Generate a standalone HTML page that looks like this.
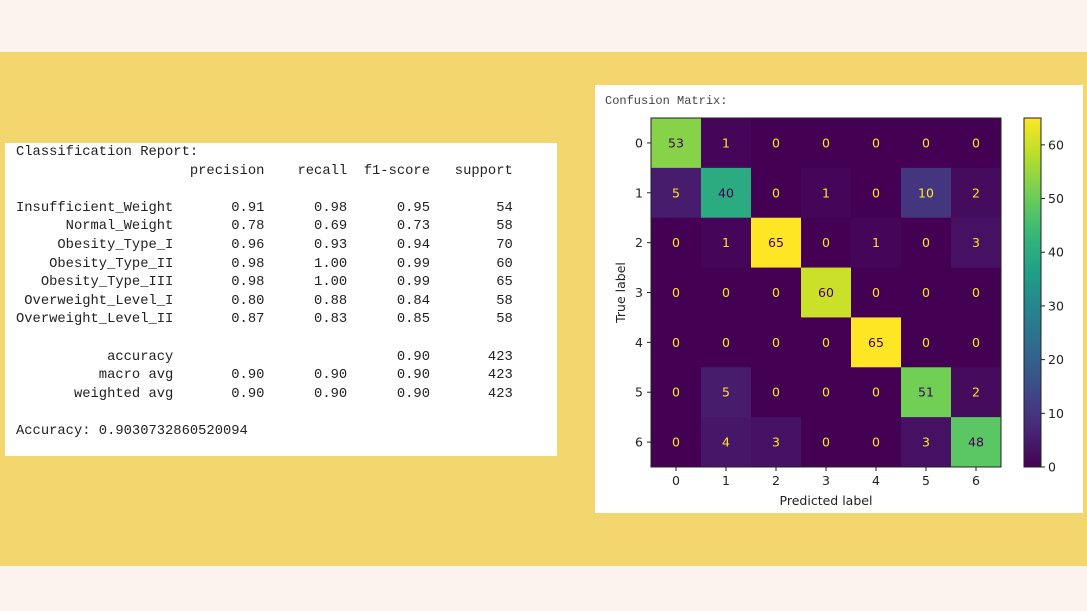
<!DOCTYPE html>
<html><head><meta charset="utf-8"><style>
body{margin:0;width:1087px;height:611px;overflow:hidden;background:#fdf3ee;position:relative;font-family:"Liberation Sans",sans-serif}
#band{position:absolute;left:0;top:52px;width:1087px;height:514px;background:#f4d66e}
#report{position:absolute;left:5px;top:143px;width:552px;height:313px;background:#fff}
#report pre{margin:0;position:absolute;left:11px;top:1px;font-family:"Liberation Mono",monospace;font-size:13.8px;line-height:18.6px;color:#222}
#cmpanel{position:absolute;left:595px;top:85px;width:488px;height:428px;background:#fff}
</style></head><body>
<div id="band"></div>
<div id="report"><pre>Classification Report:
                     precision    recall  f1-score   support

Insufficient_Weight       0.91      0.98      0.95        54
      Normal_Weight       0.78      0.69      0.73        58
     Obesity_Type_I       0.96      0.93      0.94        70
    Obesity_Type_II       0.98      1.00      0.99        60
   Obesity_Type_III       0.98      1.00      0.99        65
 Overweight_Level_I       0.80      0.88      0.84        58
Overweight_Level_II       0.87      0.83      0.85        58

           accuracy                           0.90       423
          macro avg       0.90      0.90      0.90       423
       weighted avg       0.90      0.90      0.90       423

Accuracy: 0.9030732860520094</pre></div>
<div id="cmpanel"></div>
<svg id="svg" width="1087" height="611" style="position:absolute;left:0;top:0"></svg>
<script>
const labels=[0,1,2,3,4,5,6];
const row0=[53,1,0,0,0,0,0];
const row1=[5,40,0,1,0,10,2];
const row2=[0,1,65,0,1,0,3];
const row3=[0,0,0,60,0,0,0];
const row4=[0,0,0,0,65,0,0];
const row5=[0,5,0,0,0,51,2];
const row6=[0,4,3,0,0,3,48];
const cbTicks=[0,10,20,30,40,50,60];
const matrix=[row0,row1,row2,row3,row4,row5,row6];
const NS="http://www.w3.org/2000/svg";
const svg=document.getElementById('svg');
const X0=651,Y0=118,W=350,H=349;
const vmin=0,vmax=Math.max(...matrix.flat());
const cw=W/labels.length,ch=H/labels.length;
const xs=i=>X0+i*cw, ys=i=>Y0+i*ch;
const vir=[[68,1,84],[72,40,120],[62,74,137],[49,104,142],[38,130,142],[31,158,137],[53,183,121],[110,206,88],[181,222,43],[253,231,37]];
function viridis(t){t=Math.max(0,Math.min(1,t));const p=t*(vir.length-1),i=Math.min(Math.floor(p),vir.length-2),f=p-i;const c=vir[i].map((v,k)=>Math.round(v+(vir[i+1][k]-v)*f));return `rgb(${c})`;}
function el(tag,a,txt){const e=document.createElementNS(NS,tag);for(const k in a)e.setAttribute(k,a[k]);if(txt!==undefined)e.textContent=txt;svg.appendChild(e);return e;}
let t=el('text',{x:605,y:104,'font-family':'Liberation Mono, monospace','font-size':12,fill:'#444'},'Confusion Matrix:');


matrix.forEach((row,r)=>row.forEach((v,c)=>{
 const rc=el('rect',{x:xs(c),y:ys(r),width:cw+0.5,height:ch+0.5,fill:viridis((v-vmin)/(vmax-vmin))});
 
 
 const tx=el('text',{x:xs(c)+cw/2,y:ys(r)+ch/2+4.5,'text-anchor':'middle','font-family':'DejaVu Sans, sans-serif','font-size':12.5,fill:v>(vmax+vmin)/2?'#440154':'#fde725'},String(v));
 
 
}));
el('rect',{x:X0,y:Y0,width:W,height:H,fill:'none',stroke:'#222','stroke-width':1});
labels.forEach((l,i)=>{
 el('line',{x1:xs(i)+cw/2,x2:xs(i)+cw/2,y1:Y0+H,y2:Y0+H+4,stroke:'#222'});
 const a=el('text',{x:xs(i)+cw/2,y:Y0+H+18,'text-anchor':'middle','font-family':'DejaVu Sans, sans-serif','font-size':12.5,fill:'#222'},String(l));
 
 
 el('line',{x1:X0-4,x2:X0,y1:ys(i)+ch/2,y2:ys(i)+ch/2,stroke:'#222'});
 const b=el('text',{x:X0-8,y:ys(i)+ch/2+4.5,'text-anchor':'end','font-family':'DejaVu Sans, sans-serif','font-size':12.5,fill:'#222'},String(l));
 
 
});
t=el('text',{x:X0+W/2,y:505,'text-anchor':'middle','font-family':'DejaVu Sans, sans-serif','font-size':12.5,fill:'#222'},'Predicted label');


t=el('text',{x:0,y:0,transform:`translate(625,${Y0+H/2}) rotate(-90)`,'text-anchor':'middle','font-family':'DejaVu Sans, sans-serif','font-size':12.5,fill:'#222'},'True label');


const CX=1024,CW=17;
const defs=el('defs',{});
const g=document.createElementNS(NS,'linearGradient');g.setAttribute('id','vg');g.setAttribute('x1','0');g.setAttribute('y1','1');g.setAttribute('x2','0');g.setAttribute('y2','0');
for(let i=0;i<=20;i++){const s=document.createElementNS(NS,'stop');s.setAttribute('offset',i/20);s.setAttribute('stop-color',viridis(i/20));g.appendChild(s);}
defs.appendChild(g);
t=el('rect',{x:CX,y:Y0,width:CW,height:H,fill:'url(#vg)',stroke:'#222','stroke-width':1});


const cy=v=>Y0+H-(v-vmin)/(vmax-vmin)*H;
cbTicks.forEach(v=>{
 el('line',{x1:CX+CW,x2:CX+CW+4,y1:cy(v),y2:cy(v),stroke:'#222'});
 const a=el('text',{x:CX+CW+7,y:cy(v)+4.5,'font-family':'DejaVu Sans, sans-serif','font-size':12.5,fill:'#222'},String(v));
 
 
});
</script>
</body></html>
